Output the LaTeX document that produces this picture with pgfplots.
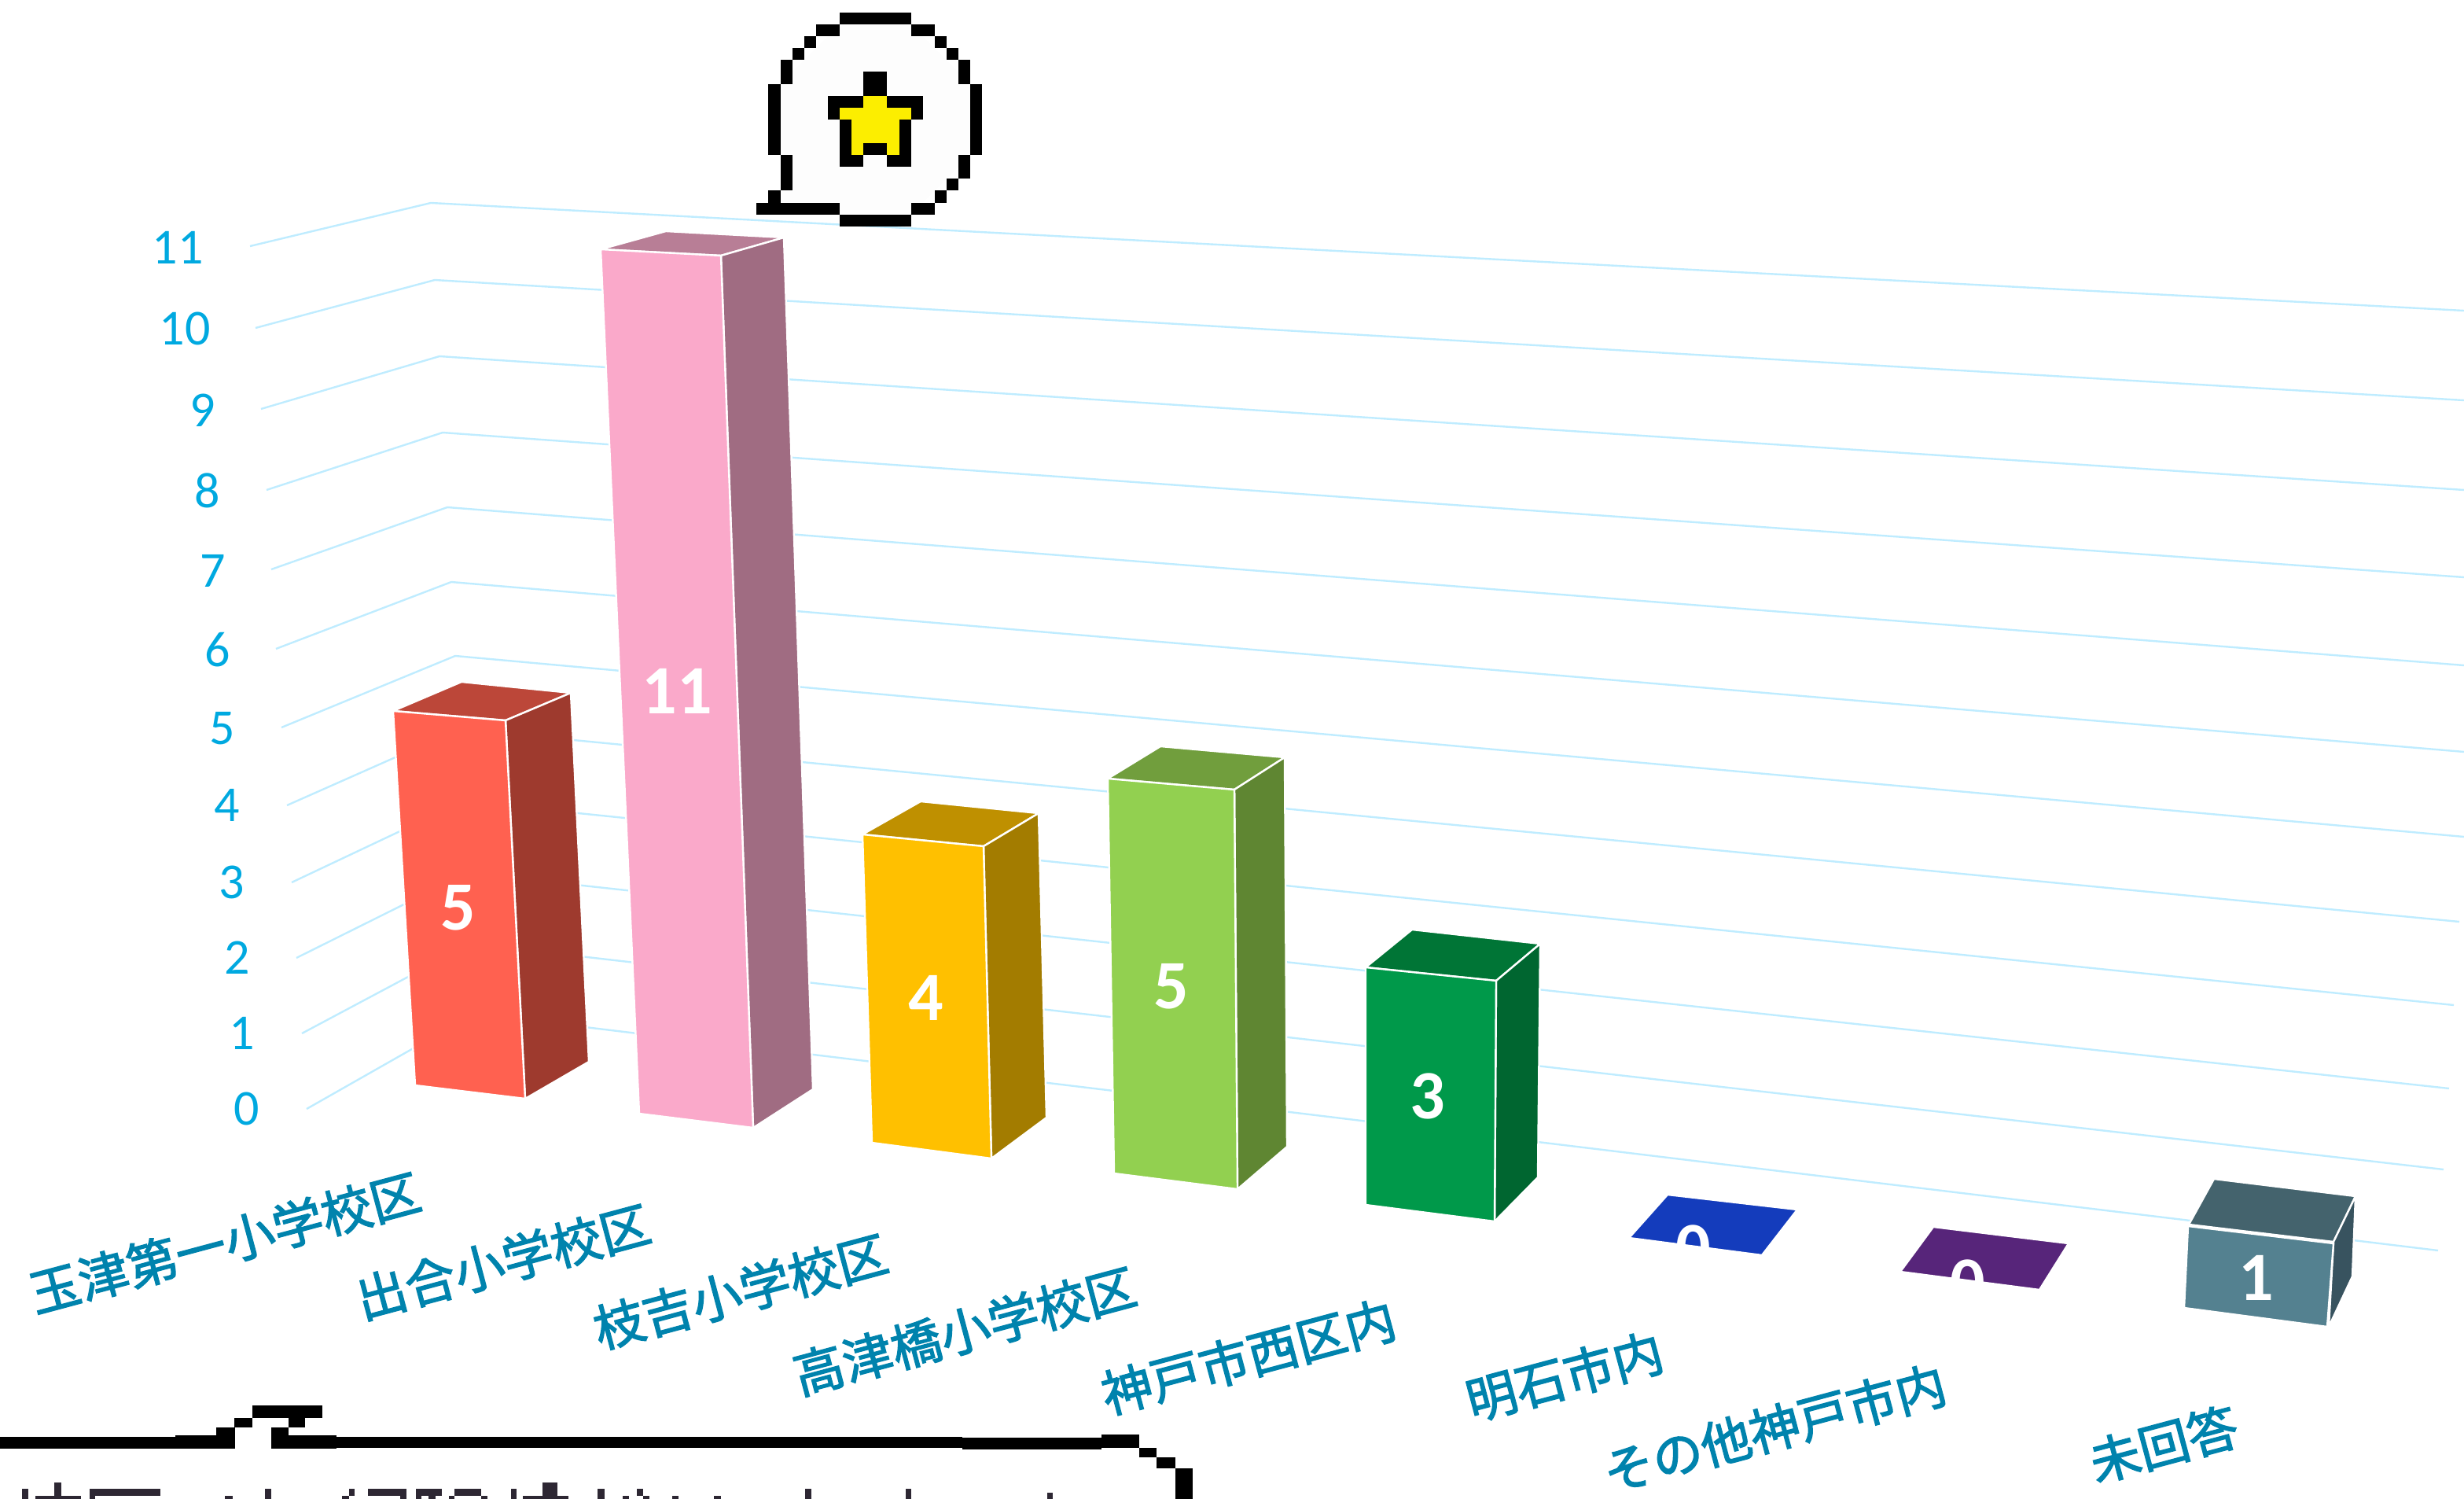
\documentclass[border=0pt]{standalone}
\usepackage{pgfplots}
\pgfplotsset{compat=1.18}
\usepackage{fontspec}
\setmainfont{Carlito}
\newfontfamily\cjk[FakeBold=2.2]{Noto Sans CJK JP}

\definecolor{gridc}{HTML}{BFECFF}
\definecolor{tickc}{HTML}{00A9E0}
\definecolor{catc}{HTML}{0083AD}
\definecolor{txtc}{HTML}{2D2733}
\definecolor{starc}{HTML}{FCEE00}
\definecolor{bubc}{HTML}{FDFDFD}
% bar faces: top, side, front
\definecolor{redT}{HTML}{BC4739}\definecolor{redS}{HTML}{9E3A2E}\definecolor{redF}{HTML}{FF6150}
\definecolor{pinkT}{HTML}{B87E96}\definecolor{pinkS}{HTML}{A06C82}\definecolor{pinkF}{HTML}{FAA9CA}
\definecolor{yelT}{HTML}{BF9000}\definecolor{yelS}{HTML}{A37C00}\definecolor{yelF}{HTML}{FFC000}
\definecolor{limeT}{HTML}{719E3D}\definecolor{limeS}{HTML}{5F8632}\definecolor{limeF}{HTML}{92D050}
\definecolor{grnT}{HTML}{007536}\definecolor{grnS}{HTML}{006630}\definecolor{grnF}{HTML}{00994A}
\definecolor{bluT}{HTML}{143CBC}\definecolor{purT}{HTML}{57257A}
\definecolor{tealT}{HTML}{44636D}\definecolor{tealS}{HTML}{38535F}\definecolor{tealF}{HTML}{548190}

% pixel blocks of the speech bubble icon, in its own grid
\newcommand{\cell}[4]{\fill ({962.3+15.1*#1},{16+15.1*#2}) rectangle ({962.3+15.1*#3},{16+15.1*#4});}
\newcommand{\ystar}[4]{\fill[starc] ({962.3+15.1*#1},{16+15.1*#2}) rectangle ({962.3+15.1*#3},{16+15.1*#4});}
\newcommand{\blk}[4]{\fill (#1,#2) rectangle (#3,#4);}
\newcommand{\txb}[4]{\fill[txtc] (#1,#2) rectangle (#3,#4);}
\newcommand{\tick}[3]{\node[anchor=east,inner sep=0pt,text=tickc,font=\fontsize{32bp}{38bp}\selectfont] at (#1,#2) {#3};}
\newcommand{\cat}[3]{\node[rotate=15,inner sep=0pt,text=catc,font=\fontsize{32bp}{38bp}\selectfont\cjk] at (#1,#2) {#3};}
\newcommand{\val}[3]{\node[inner sep=0pt,text=white,font=\fontsize{44bp}{50bp}\selectfont\bfseries] at (#1,#2) {#3};}
\newcommand{\face}[2]{\addplot[fill=#1, draw=white, line width=1.2bp] coordinates {#2} -- cycle;}

\begin{document}
\begin{tikzpicture}
\begin{axis}[
	name=ax,
	width=1567bp, height=953bp, scale only axis,
	xmin=0, xmax=3134, ymin=0, ymax=1906,
	y dir=reverse,
	hide axis,
	clip=true,
]
% gridlines 11 ... 0
\addplot[gridc, line width=1.2bp] coordinates {(318,313) (548,258) (3134,395)};
\addplot[gridc, line width=1.2bp] coordinates {(325,417) (553,356) (3134,509)};
\addplot[gridc, line width=1.2bp] coordinates {(332,520) (559,453) (3134,623)};
\addplot[gridc, line width=1.2bp] coordinates {(339,623) (563,550) (3134,734)};
\addplot[gridc, line width=1.2bp] coordinates {(345,724) (569,645) (3134,846)};
\addplot[gridc, line width=1.2bp] coordinates {(351,825) (574,740) (3134,956)};
\addplot[gridc, line width=1.2bp] coordinates {(358,925) (579,834) (3134,1064)};
\addplot[gridc, line width=1.2bp] coordinates {(365,1024) (584,927) (3128,1172)};
\addplot[gridc, line width=1.2bp] coordinates {(371,1122) (589,1019) (3121,1278)};
\addplot[gridc, line width=1.2bp] coordinates {(377,1218) (594,1110) (3115,1384)};
\addplot[gridc, line width=1.2bp] coordinates {(384,1314) (598,1200) (3108,1487)};
\addplot[gridc, line width=1.2bp] coordinates {(390,1410) (603,1289) (3101,1590)};

% y tick labels
\tick{259}{315}{11}
\tick{268}{418}{10}
\tick{274}{522}{9}
\tick{280}{624}{8}
\tick{287}{726}{7}
\tick{293}{826}{6}
\tick{299}{926}{5}
\tick{305}{1024}{4}
\tick{311}{1122}{3}
\tick{318}{1218}{2}
\tick{324}{1314}{1}
\tick{330}{1410}{0}

% bars, each as top, side, front
\face{redT}{(500,904) (587,867) (726,881) (643,916)}
\face{redS}{(643,916) (726,881) (749,1350) (668,1397)}
\face{redF}{(500,904) (643,916) (668,1397) (528,1380)}

\face{pinkT}{(764,317) (847,294) (997,302) (917,325)}
\face{pinkS}{(917,325) (997,302) (1034,1385) (958,1434)}
\face{pinkF}{(764,317) (917,325) (958,1434) (813,1416)}

\face{yelT}{(1097,1061) (1171,1019) (1321,1034) (1251,1076)}
\face{yelS}{(1251,1076) (1321,1034) (1331,1421) (1261,1473)}
\face{yelF}{(1097,1061) (1251,1076) (1261,1473) (1109,1453)}

\face{limeT}{(1409,990) (1476,949) (1634,963) (1570,1004)}
\face{limeS}{(1570,1004) (1634,963) (1637,1458) (1574,1512)}
\face{limeF}{(1409,990) (1570,1004) (1574,1512) (1417,1492)}

\face{grnT}{(1737,1230) (1796,1182) (1959,1200) (1903,1247)}
\face{grnS}{(1903,1247) (1959,1200) (1956,1497) (1901,1553)}
\face{grnF}{(1737,1230) (1903,1247) (1901,1553) (1737,1532)}

\face{bluT}{(2121,1519) (2286,1538) (2241,1596) (2072,1574)}
\face{purT}{(2459,1560) (2631,1581) (2594,1640) (2417,1617)}

\face{tealT}{(2784,1557) (2816,1499) (2996,1521) (2968,1579)}
\face{tealS}{(2968,1579) (2996,1521) (2992,1623) (2962,1687)}
\face{tealF}{(2783,1559) (2968,1581) (2960,1687) (2778,1663)}

% data labels
\val{583}{1154}{5}
\val{861}{879}{11}
\val{1178}{1269}{4}
\val{1490}{1254}{5}
\val{1816}{1394}{3}
\val{2154}{1587}{0}
\val{2503}{1631}{0}
\val{2870}{1625}{1}

% category labels
\cat{286}{1580}{玉津第一小学校区}
\cat{640}{1604}{出合小学校区}
\cat{942}{1642}{枝吉小学校区}
\cat{1227}{1692}{高津橋小学校区}
\cat{1588}{1725}{神戸市西区内}
\cat{1990}{1750}{明石市内}
\cat{2257}{1816}{その他神戸市内}
\cat{2752}{1836}{未回答}

% star bubble
\fill[bubc] ({962.3+15.1*7},{16+15.1*1}) -- ({962.3+15.1*13},{16+15.1*1}) -- ({962.3+15.1*18},{16+15.1*6}) -- ({962.3+15.1*18},{16+15.1*12}) -- ({962.3+15.1*13},{16+15.1*17}) -- ({962.3+15.1*7},{16+15.1*17}) -- ({962.3+15.1*7},{16+15.1*16}) -- ({962.3+15.1*2},{16+15.1*16}) -- ({962.3+15.1*2},{16+15.1*12}) -- ({962.3+15.1*2},{16+15.1*6}) -- cycle;
\cell{7}{0}{13}{1}
\cell{5}{1}{7}{2} \cell{13}{1}{15}{2}
\cell{4}{2}{5}{3} \cell{15}{2}{16}{3}
\cell{3}{3}{4}{4} \cell{16}{3}{17}{4}
\cell{2}{4}{3}{6} \cell{17}{4}{18}{6}
\cell{1}{6}{2}{12} \cell{18}{6}{19}{12}
\cell{2}{12}{3}{15} \cell{17}{12}{18}{14}
\cell{16}{14}{17}{15}
\cell{1}{15}{2}{16} \cell{15}{15}{16}{16}
\cell{0}{16}{7}{17} \cell{13}{16}{15}{17}
\cell{7}{17}{13}{18}
% star
\cell{9}{5}{11}{7}
\cell{6}{7}{9}{8} \cell{11}{7}{14}{8}
\cell{6}{8}{7}{9} \cell{13}{8}{14}{9}
\cell{7}{9}{8}{13} \cell{12}{9}{13}{13}
\cell{8}{12}{9}{13} \cell{11}{12}{12}{13}
\cell{9}{11}{11}{12}
\ystar{9}{7}{11}{8}
\ystar{7}{8}{13}{9}
\ystar{8}{9}{12}{11}
\ystar{8}{11}{9}{12} \ystar{11}{11}{12}{12}

% lower bubble, cut by the picture's edge
\blk{0}{1827}{223}{1842}
\blk{223}{1825}{299}{1842}
\blk{345}{1825}{428}{1842}
\blk{428}{1827}{1224}{1841}
\blk{1224}{1828}{1401}{1843}
\blk{1401}{1824}{1449}{1841}
\blk{275}{1815}{299}{1825}
\blk{298}{1803}{321}{1815}
\blk{321}{1787}{410}{1803}
\blk{367}{1803}{388}{1815}
\blk{345}{1815}{367}{1825}
\blk{1449}{1841}{1471}{1853}
\blk{1471}{1853}{1495}{1867}
\blk{1495}{1867}{1517}{1906}
% tops of the bubble's text line
\txb{28}{1893}{36}{1906}
\txb{45}{1902}{103}{1906}
\txb{69}{1885}{78}{1902}
\txb{114}{1893}{204}{1902}
\txb{114}{1902}{121}{1906}
\txb{286}{1902}{296}{1906}
\txb{337}{1893}{345}{1906}
\txb{435}{1902}{444}{1906}
\txb{444}{1893}{451}{1902}
\txb{468}{1893}{517}{1902}
\txb{509}{1902}{517}{1906}
\txb{529}{1893}{562}{1902}
\txb{529}{1902}{536}{1906}
\txb{545}{1902}{554}{1906}
\txb{578}{1893}{612}{1902}
\txb{571}{1902}{578}{1906}
\txb{612}{1902}{620}{1906}
\txb{650}{1893}{657}{1906}
\txb{665}{1902}{700}{1906}
\txb{690}{1885}{700}{1902}
\txb{700}{1885}{709}{1906}
\txb{709}{1902}{723}{1906}
\txb{760}{1893}{769}{1906}
\txb{792}{1902}{800}{1906}
\txb{810}{1893}{818}{1902}
\txb{818}{1902}{826}{1906}
\txb{855}{1902}{863}{1906}
\txb{908}{1902}{917}{1906}
\txb{1024}{1893}{1032}{1906}
\txb{1152}{1893}{1159}{1906}
\txb{1332}{1898}{1339}{1906}
\end{axis}
\pgfresetboundingbox
\useasboundingbox (ax.south west) rectangle (ax.north east);
\end{tikzpicture}
\end{document}
